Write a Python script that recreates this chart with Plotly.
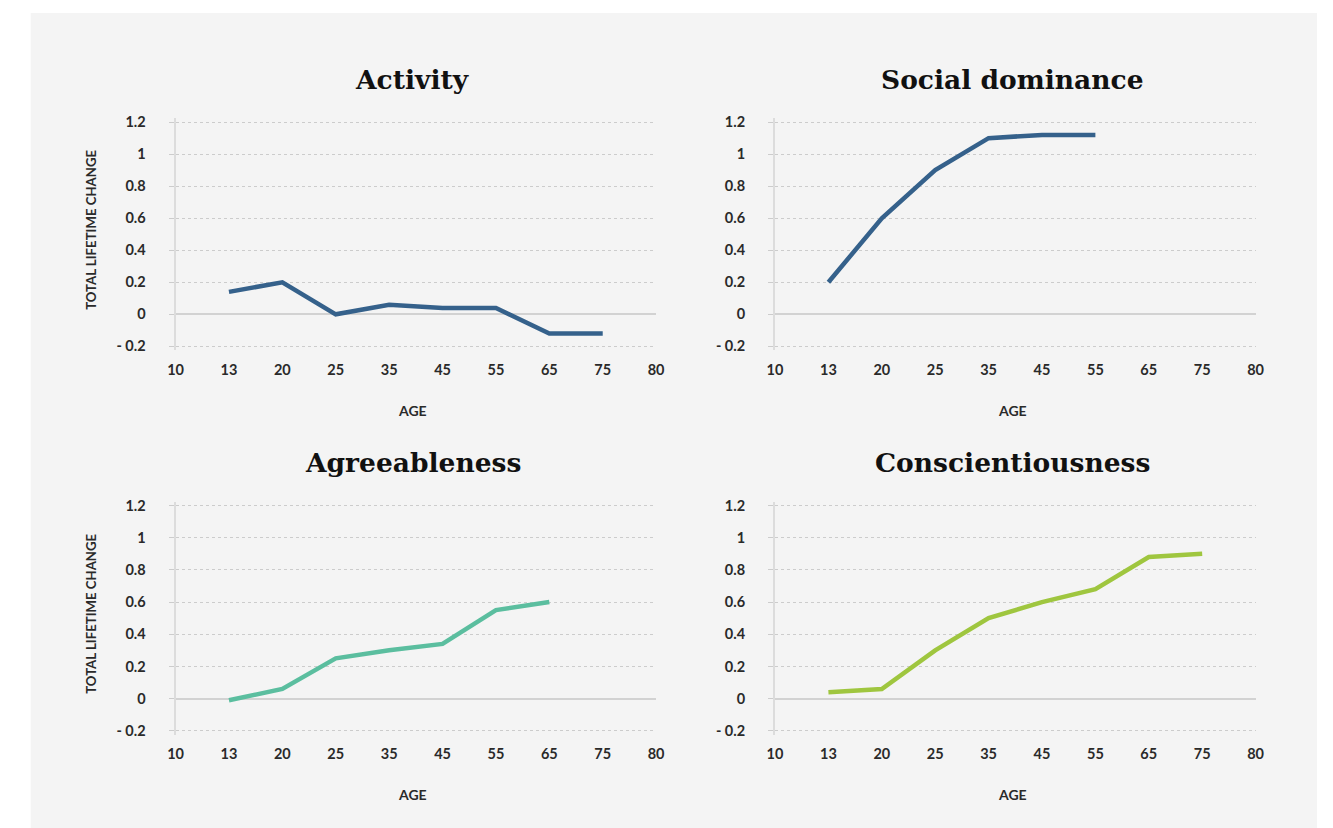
import plotly.graph_objects as go

# ---- data ----
age_labels = ["10", "13", "20", "25", "35", "45", "55", "65", "75", "80"]
y_tickvals = [-0.2, 0, 0.2, 0.4, 0.6, 0.8, 1, 1.2]
y_ticktext = ["- 0.2", "0", "0.2", "0.4", "0.6", "0.8", "1", "1.2"]

activity_ages = ["13", "20", "25", "35", "45", "55", "65", "75"]
activity_vals = [0.14, 0.20, 0.00, 0.06, 0.04, 0.04, -0.12, -0.12]

social_ages = ["13", "20", "25", "35", "45", "55"]
social_vals = [0.20, 0.60, 0.90, 1.10, 1.12, 1.12]

agree_ages = ["13", "20", "25", "35", "45", "55", "65"]
agree_vals = [-0.01, 0.06, 0.25, 0.30, 0.34, 0.55, 0.60]

consc_ages = ["13", "20", "25", "35", "45", "55", "65", "75"]
consc_vals = [0.04, 0.06, 0.30, 0.50, 0.60, 0.68, 0.88, 0.90]

titles = ["Activity", "Social dominance", "Agreeableness", "Conscientiousness"]
colors = ["#35618B", "#35618B", "#5BBE9F", "#9FC63F"]

# ---- layout helpers (target pixel -> paper) ----
S, BX, BY = 0.988, 16.3, 12.0
W, H = 1318, 826
def px(x):
    return ((x - BX) / S) / W
def py(y):
    return 1 - ((y - BY) / S) / H

fig = go.Figure()

panels = [
    # (x0, x1, ytop, ybottom) in target pixels for plot area
    (176, 657, 117, 349),
    (776, 1257, 117, 349),
    (176, 657, 500, 733),
    (776, 1257, 500, 733),
]
series = [
    (activity_ages, activity_vals),
    (social_ages, social_vals),
    (agree_ages, agree_vals),
    (consc_ages, consc_vals),
]

tick_font = dict(family="Lato", size=14.5, color="#2a2a2a", weight="bold")
grid_color = "#cccccc"

annotations = []
for i, ((x0, x1, yt, yb), (xs, ys)) in enumerate(zip(panels, series)):
    n = "" if i == 0 else str(i + 1)
    fig.add_trace(go.Scatter(
        x=xs, y=ys, mode="lines",
        line=dict(color=colors[i], width=4.5),
        xaxis="x" + n, yaxis="y" + n, showlegend=False,
        hoverinfo="x+y",
    ))
    fig.layout["xaxis" + n] = dict(
        domain=[px(x0), px(x1)], anchor="y" + n,
        type="category", categoryorder="array", categoryarray=age_labels,
        tickvals=age_labels, range=[0, 9],
        showgrid=False, zeroline=False, showline=False,
        ticks="", tickfont=tick_font, ticklabelstandoff=9,
        fixedrange=True,
    )
    fig.layout["yaxis" + n] = dict(
        domain=[py(yb), py(yt)], anchor="x" + n,
        range=[-0.225, 1.225],
        tickvals=y_tickvals, ticktext=y_ticktext,
        showgrid=True, gridcolor=grid_color, griddash="3px,3px", gridwidth=1,
        zeroline=True, zerolinecolor="#d2d2d2", zerolinewidth=1.5,
        showline=True, linecolor="#dcdcdc", linewidth=2,
        ticks="outside", ticklen=5, tickcolor=grid_color, tickwidth=1,
        tickfont=tick_font, ticklabelstandoff=20,
        fixedrange=True,
    )
    cx = (x0 + x1) / 2
    # subplot title
    annotations.append(dict(
        text="<b>" + titles[i] + "</b>", x=px(cx - 3), y=py(yt - 39),
        xref="paper", yref="paper", xanchor="center", yanchor="middle",
        showarrow=False, font=dict(family="DejaVu Serif", size=26.5, color="#111111"),
    ))
    # x title
    annotations.append(dict(
        text="<b>AGE</b>", x=px(cx - 3), y=py(yb + 60),
        xref="paper", yref="paper", xanchor="center", yanchor="middle",
        showarrow=False, font=dict(family="Lato", size=14, color="#2a2a2a"),
    ))
    # y title on left column
    if i % 2 == 0:
        annotations.append(dict(
            text="<b>TOTAL LIFETIME CHANGE</b>", x=px(92), y=py((yt + yb) / 2 - 4),
            xref="paper", yref="paper", xanchor="center", yanchor="middle",
            textangle=-90, showarrow=False,
            font=dict(family="Lato", size=13.2, color="#2a2a2a"),
        ))

fig.update_layout(
    width=W, height=H,
    margin=dict(l=0, r=0, t=0, b=0),
    paper_bgcolor="#ffffff",
    plot_bgcolor="rgba(0,0,0,0)",
    annotations=annotations,
    shapes=[dict(
        type="rect", xref="paper", yref="paper",
        x0=px(31), x1=1, y0=0, y1=1,
        fillcolor="#f4f4f4", line=dict(width=0), layer="below",
    )],
    showlegend=False,
)

fig.write_html("out.html")
